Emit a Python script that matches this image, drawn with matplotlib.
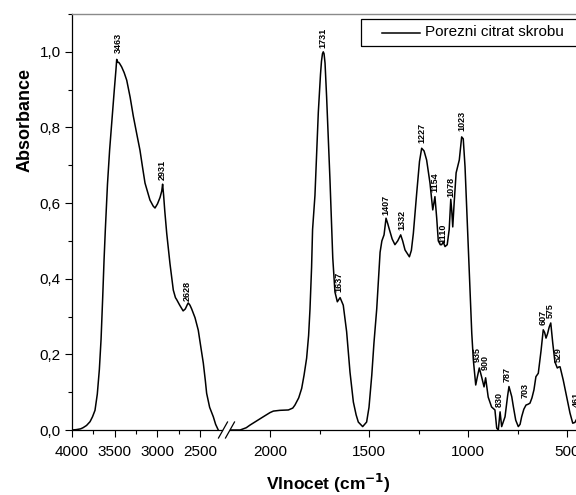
import numpy as np
import matplotlib
matplotlib.use("Agg")
import matplotlib.pyplot as plt
from matplotlib.lines import Line2D
from matplotlib.patches import Rectangle
from matplotlib.ticker import MultipleLocator, FuncFormatter

plt.rcParams["font.family"] = ["Liberation Sans", "DejaVu Sans"]

# spectrum, high wavenumber part (4000 - 2250 cm-1)
wn_hi = [4000, 3950, 3900, 3871, 3830, 3789, 3760, 3731, 3704, 3680, 3660, 3641,
         3625, 3610, 3585, 3560, 3536, 3505, 3485, 3477, 3463, 3452, 3440, 3419, 3390,
         3360, 3320, 3283, 3240, 3205, 3175, 3146, 3110, 3088, 3050, 3029, 3000,
         2970, 2950, 2940, 2928, 2915, 2892, 2854, 2815, 2790, 2776, 2740, 2700,
         2675, 2650, 2640, 2620, 2600, 2561, 2523, 2490, 2464, 2440, 2425, 2390,
         2347, 2320, 2289]
abs_hi = [0.0, 0.001, 0.003, 0.006, 0.012, 0.022, 0.035, 0.052, 0.095, 0.16, 0.24, 0.35,
          0.45, 0.53, 0.65, 0.74, 0.81, 0.90, 0.955, 0.98, 0.972, 0.972, 0.968, 0.96, 0.945,
          0.925, 0.88, 0.83, 0.78, 0.74, 0.695, 0.653, 0.625, 0.608, 0.592, 0.587, 0.598,
          0.615, 0.632, 0.65, 0.62, 0.58, 0.52, 0.44, 0.37, 0.35, 0.345, 0.33, 0.315,
          0.32, 0.332, 0.336, 0.33, 0.32, 0.297, 0.264, 0.215, 0.177, 0.13, 0.097, 0.06,
          0.035, 0.015, 0.0]

# spectrum, low wavenumber part (2200 - 400 cm-1)
wn_lo = [2200, 2151, 2120, 2101, 2065, 2034, 2000, 1983, 1950, 1907, 1885, 1874,
         1855, 1840, 1828, 1815, 1805, 1798, 1790, 1785, 1773, 1756, 1745, 1740, 1735,
         1731, 1727, 1722, 1714, 1697, 1688, 1683, 1672, 1660, 1646, 1630, 1613, 1596,
         1579, 1565, 1554, 1532, 1512, 1500, 1486, 1475, 1461, 1444, 1435, 1424,
         1414, 1405, 1397, 1383, 1369, 1355, 1340, 1330, 1318, 1296, 1286, 1276,
         1259, 1245, 1234, 1222, 1209, 1192, 1178, 1167, 1158, 1150, 1140, 1133,
         1125, 1116, 1105, 1095, 1087, 1082, 1077, 1070, 1060, 1044, 1032, 1024,
         1015, 1003, 998, 981, 973, 961, 953, 943, 931, 919, 911, 898,
         881, 864, 855, 847, 838, 830, 813, 800, 793, 785, 779, 771,
         759, 746, 737, 729, 718, 707, 697, 687, 677, 667, 657, 645,
         631, 620, 613, 606, 598, 590, 582, 572, 561, 549, 540, 535,
         519, 502, 485, 471, 460, 450]
abs_lo = [0.0, 0.0, 0.006, 0.013, 0.025, 0.035, 0.046, 0.05, 0.052, 0.053, 0.058, 0.066,
          0.085, 0.11, 0.145, 0.19, 0.25, 0.32, 0.43, 0.53, 0.62, 0.84, 0.94, 0.975, 0.995,
          1.0, 0.995, 0.97, 0.88, 0.66, 0.53, 0.455, 0.365, 0.339, 0.35, 0.33, 0.26, 0.153,
          0.074, 0.04, 0.021, 0.009, 0.021, 0.06, 0.145, 0.23, 0.32, 0.47, 0.5, 0.516,
          0.56, 0.545, 0.53, 0.505, 0.49, 0.5, 0.516, 0.5, 0.476, 0.458, 0.475, 0.52,
          0.627, 0.71, 0.745, 0.738, 0.714, 0.653, 0.582, 0.617, 0.56, 0.5, 0.49, 0.49,
          0.497, 0.485, 0.49, 0.53, 0.61, 0.58, 0.537, 0.6, 0.68, 0.714, 0.775, 0.77,
          0.696, 0.537, 0.476, 0.256, 0.185, 0.119, 0.14, 0.164, 0.14, 0.114, 0.138, 0.087,
          0.061, 0.053, 0.005, 0.0, 0.048, 0.009, 0.035, 0.09, 0.115, 0.1, 0.088, 0.062,
          0.026, 0.009, 0.015, 0.035, 0.055, 0.066, 0.068, 0.071, 0.085, 0.106, 0.141, 0.15,
          0.21, 0.265, 0.258, 0.243, 0.255, 0.272, 0.283, 0.23, 0.18, 0.164, 0.167, 0.167,
          0.132, 0.088, 0.045, 0.018, 0.02, 0.03]

# peak annotations: text, x position, y of text bottom
peaks_hi = ["3463", "2931", "2628"]
peaks_hi_x = [3462, 2944, 2647]
peaks_hi_y = [0.997, 0.661, 0.34]

peaks_lo = ["1731", "1637", "1407", "1332", "1227", "1154", "1110", "1078", "1023",
            "935", "900", "830", "787", "703", "607", "575", "529", "461"]
peaks_lo_x = [1734, 1650, 1414, 1335, 1234, 1167, 1125, 1087, 1032,
              951, 912, 840, 800, 714, 620, 586, 544, 455]
peaks_lo_y = [1.01, 0.366, 0.569, 0.529, 0.758, 0.63, 0.495, 0.617, 0.79,
              0.18, 0.159, 0.062, 0.128, 0.084, 0.278, 0.295, 0.18, 0.062]

W, H = 576, 495
fig = plt.figure(figsize=(W / 100, H / 100), dpi=100)


def fx(px):
    return px / W


def fy(py):
    return 1 - py / H


bottom, top = 430, 14
ax1 = fig.add_axes([fx(72), fy(bottom), fx(221.6 - 72), (bottom - top) / H])
ax2 = fig.add_axes([fx(230.4), fy(bottom), fx(586.8 - 230.4), (bottom - top) / H])

lw = 1.1
ax1.plot(wn_hi, abs_hi, color="black", lw=lw)
ax2.plot(wn_lo, abs_lo, color="black", lw=lw)

ax1.set_xlim(4000, 2250)
ax2.set_xlim(2200, 400)
for ax in (ax1, ax2):
    ax.set_ylim(0, 1.1)
    ax.spines["top"].set_visible(False)
    ax.spines["right"].set_visible(False)
    for s in ax.spines.values():
        s.set_linewidth(0.9)
    ax.tick_params(which="major", direction="out", length=5, width=0.8,
                   labelsize=11, pad=5.5)
    ax.tick_params(which="minor", direction="out", length=3, width=0.8)

ax1.set_xticks([4000, 3500, 3000, 2500])
ax1.set_xticks([3750, 3250, 2750], minor=True)
ax2.set_xticks([2000, 1500, 1000, 500])
ax2.set_xticks([1750, 1250, 750], minor=True)

ax1.yaxis.set_major_locator(MultipleLocator(0.2))
ax1.yaxis.set_minor_locator(MultipleLocator(0.1))
ax1.yaxis.set_major_formatter(FuncFormatter(lambda v, p: f"{v:.1f}".replace(".", ",")))
ax1.tick_params(axis="y", pad=3)
ax2.spines["left"].set_visible(False)
ax2.tick_params(axis="y", which="both", left=False, labelleft=False)

for t, x, y in zip(peaks_hi, peaks_hi_x, peaks_hi_y):
    ax1.text(x, y, t, rotation=90, ha="center", va="bottom",
             fontsize=6.5, fontweight="bold")
for t, x, y in zip(peaks_lo, peaks_lo_x, peaks_lo_y):
    ax2.text(x, y, t, rotation=90, ha="center", va="bottom",
             fontsize=6.5, fontweight="bold", clip_on=False)

# continuous top frame line
fig.add_artist(Line2D([fx(72), fx(600)], [fy(top), fy(top)], color="#8a8a8a", lw=1.0))

# axis break marks
for x0 in (218.5, 225.5):
    fig.add_artist(Line2D([fx(x0), fx(x0 + 9)], [fy(438), fy(422)], color="black", lw=0.9))

# legend box
fig.add_artist(Rectangle((fx(361), fy(46)), fx(240), (46 - 19) / H, fill=False,
                         edgecolor="black", lw=0.9))
fig.add_artist(Line2D([fx(382), fx(420)], [fy(32.5), fy(32.5)], color="black", lw=lw))
fig.text(fx(425), fy(32.5), "Porezni citrat skrobu", fontsize=11, va="center", ha="left")

fig.text(fx(25), fy(120), "Absorbance", rotation=90, fontsize=13, fontweight="bold",
         ha="center", va="center")
fig.text(fx(328), fy(483), "Vlnocet (cm$^{\\mathbf{-1}}$)", fontsize=12.5, fontweight="bold",
         ha="center", va="center")

fig.savefig("out.png", dpi=100)
